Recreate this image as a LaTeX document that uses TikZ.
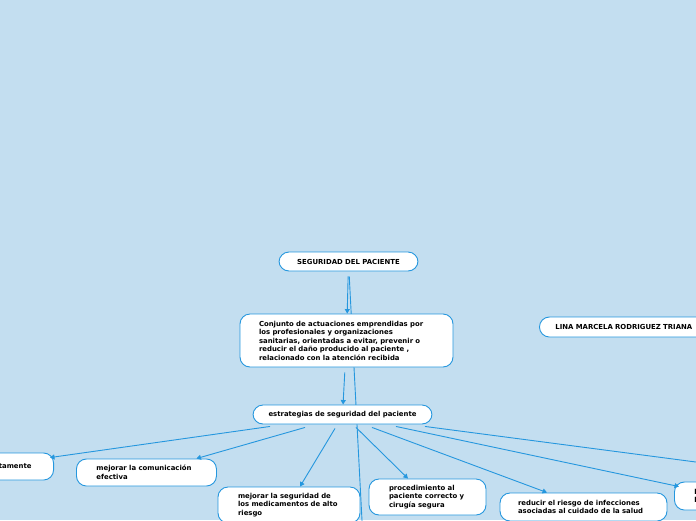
\documentclass[tikz,border=0pt]{standalone}
\usepackage{fontspec}
\setmainfont{DejaVu Sans}
\usetikzlibrary{arrows.meta,backgrounds}
\definecolor{bgblue}{RGB}{195,222,240}
\definecolor{linkblue}{RGB}{37,151,222}
\tikzset{
  idea/.style={draw=linkblue,fill=white,line width=0.9pt,rounded corners=10pt,
    font=\fontsize{6.9}{8.5}\selectfont\bfseries,inner ysep=0pt},
  link/.style={draw=linkblue,line width=0.9pt}
}
\begin{document}
\begin{tikzpicture}[x=1pt,y=-1pt,>={Triangle[length=4.5pt,width=5pt]}]
\useasboundingbox (0,0) rectangle (696,520);
\begin{scope}[on background layer]
\fill[bgblue] (0,0) rectangle (696,520);
\end{scope}
% main branch
\node[idea,minimum width=139pt,minimum height=19pt] (seg) at (348.5,261.5) {SEGURIDAD DEL PACIENTE};
\node[idea,minimum width=213pt,minimum height=53pt,text width=175pt,inner xsep=19pt,align=left] (conj) at (346.5,340.5)
  {Conjunto de actuaciones emprendidas por\\los profesionales y organizaciones\\sanitarias, orientadas a evitar, prevenir o\\reducir el daño producido al paciente ,\\relacionado con la atención recibida};
\node[idea,minimum width=179pt,minimum height=19pt] (estr) at (342.5,414.5) {estrategias de seguridad del paciente};
\node[idea,anchor=west,minimum height=20pt,text width=200pt,inner xsep=16pt,align=left] (lina) at (539,327) {LINA MARCELA RODRIGUEZ TRIANA};
% strategies
\node[idea,anchor=east,minimum height=27pt,text width=100pt,inner xsep=22pt,align=right] (ident) at (54,466.5) {tamente};
\node[idea,anchor=west,minimum height=27pt,text width=100pt,inner xsep=20pt,align=left] (comu) at (76,472.5) {mejorar la comunicación\\efectiva};
\node[idea,minimum height=36pt,text width=102pt,inner xsep=20pt,align=left] (medi) at (289,505) {mejorar la seguridad de\\los medicamentos de alto\\riesgo};
\node[idea,minimum height=36pt,text width=77pt,inner xsep=20pt,align=left] (proc) at (427.5,497) {procedimiento al\\paciente correcto y\\cirugía segura};
\node[idea,minimum height=28pt,text width=131pt,inner xsep=18pt,align=left] (redu) at (583.5,507) {reducir el riesgo de infecciones\\asociadas al cuidado de la salud};
\node[idea,anchor=west,minimum height=28pt,text width=80pt,inner xsep=20pt,align=left] (otra) at (674,496) {l\\l};
\coordinate (hid) at (362.6,532);
\coordinate (offr) at (705,463.2);
% connectors
\begin{scope}[on background layer]
\draw[link,shorten <=5pt] ([xshift=0.5pt]seg.south) -- (hid);
\end{scope}
\draw[link,->,shorten <=5pt] (seg) -- (conj);
\draw[link,->,shorten <=5pt] (conj) -- (estr);
\draw[link,->] ([xshift=-72.5pt,yshift=-2pt]estr.south) -- ([xshift=-4pt,yshift=-5pt]ident.north east);
\draw[link,->] ([xshift=-37.5pt,yshift=-3pt]estr.south) -- ([xshift=50pt]comu.north);
\draw[link,->] ([xshift=-7.5pt,yshift=-4pt]estr.south) -- ([xshift=11pt]medi.north);
\draw[link,->] ([xshift=13.5pt,yshift=-3pt]estr.south) -- ([xshift=-19.5pt]proc.north);
\draw[link,->] ([xshift=29.5pt,yshift=-3pt]estr.south) -- ([xshift=-36.5pt]redu.north);
\draw[link,->] ([xshift=53.5pt,yshift=-2pt]estr.south) -- ([xshift=5pt,yshift=-5pt]otra.north west);
\draw[link] ([xshift=82.5pt,yshift=-2pt]estr.south) -- (offr);
\end{tikzpicture}
\end{document}
